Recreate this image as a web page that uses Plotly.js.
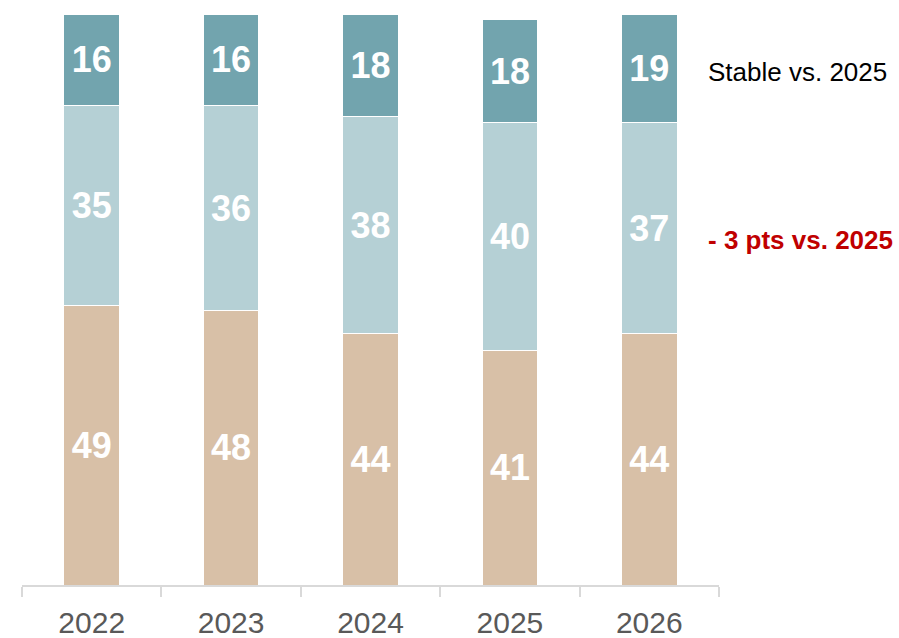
<!DOCTYPE html>
<html>
<head>
<meta charset="utf-8">
<script src="https://cdn.plot.ly/plotly-3.0.1.min.js"></script>
<style>
  html, body { margin: 0; padding: 0; background: #ffffff; }
  #chart { width: 899px; height: 638px; }
</style>
</head>
<body>
<div id="chart"></div>
<script>
const years = ['2022', '2023', '2024', '2025', '2026'];
const bottomValues = [49, 48, 44, 41, 44];
const middleValues = [35, 36, 38, 40, 37];
const topValues = [16, 16, 18, 18, 19];
const noteTop = 'Stable vs. 2025';
const noteMiddle = '- 3 pts vs. 2025';

const labelFont = { family: 'Liberation Sans, Arial, sans-serif', size: 36, color: '#ffffff', weight: 'bold' };

function seg(vals, color, name) {
  return {
    type: 'bar',
    name: name,
    x: years,
    y: vals,
    text: vals.map(String),
    textposition: 'inside',
    insidetextanchor: 'middle',
    constraintext: 'none',
    textfont: labelFont,
    texttemplate: '<b>%{text}</b>',
    marker: { color: color, line: { color: '#ffffff', width: 1 } },
    hoverinfo: 'skip'
  };
}

const data = [
  seg(bottomValues, '#d8c0a7', 'bottom'),
  seg(middleValues, '#b5d0d5', 'middle'),
  seg(topValues, '#72a4ae', 'top')
];

const layout = {
  width: 899,
  height: 638,
  barmode: 'stack',
  bargap: 0.6,
  showlegend: false,
  paper_bgcolor: '#ffffff',
  plot_bgcolor: '#ffffff',
  margin: { l: 22, r: 180, t: 14, b: 53 },
  xaxis: {
    type: 'category',
    showline: true,
    linecolor: '#d9d9d9',
    linewidth: 2,
    ticks: 'outside',
    tickson: 'boundaries',
    ticklen: 10,
    tickcolor: '#d9d9d9',
    tickwidth: 2,
    ticklabelstandoff: 10,
    showgrid: false,
    tickfont: { family: 'Liberation Sans, Arial, sans-serif', size: 30, color: '#595959' }
  },
  yaxis: {
    range: [0, 100],
    visible: false,
    showgrid: false,
    zeroline: false
  },
  annotations: [
    {
      xref: 'paper', yref: 'paper',
      x: 0.982, y: 0.898,
      xanchor: 'left', yanchor: 'middle',
      text: noteTop,
      showarrow: false,
      font: { family: 'Liberation Sans, Arial, sans-serif', size: 26, color: '#000000' }
    },
    {
      xref: 'paper', yref: 'paper',
      x: 0.982, y: 0.605,
      xanchor: 'left', yanchor: 'middle',
      text: '<b>' + noteMiddle + '</b>',
      showarrow: false,
      font: { family: 'Liberation Sans, Arial, sans-serif', size: 26, color: '#c00000' }
    }
  ]
};

Plotly.newPlot('chart', data, layout, { displayModeBar: false, staticPlot: true });
</script>
</body>
</html>
